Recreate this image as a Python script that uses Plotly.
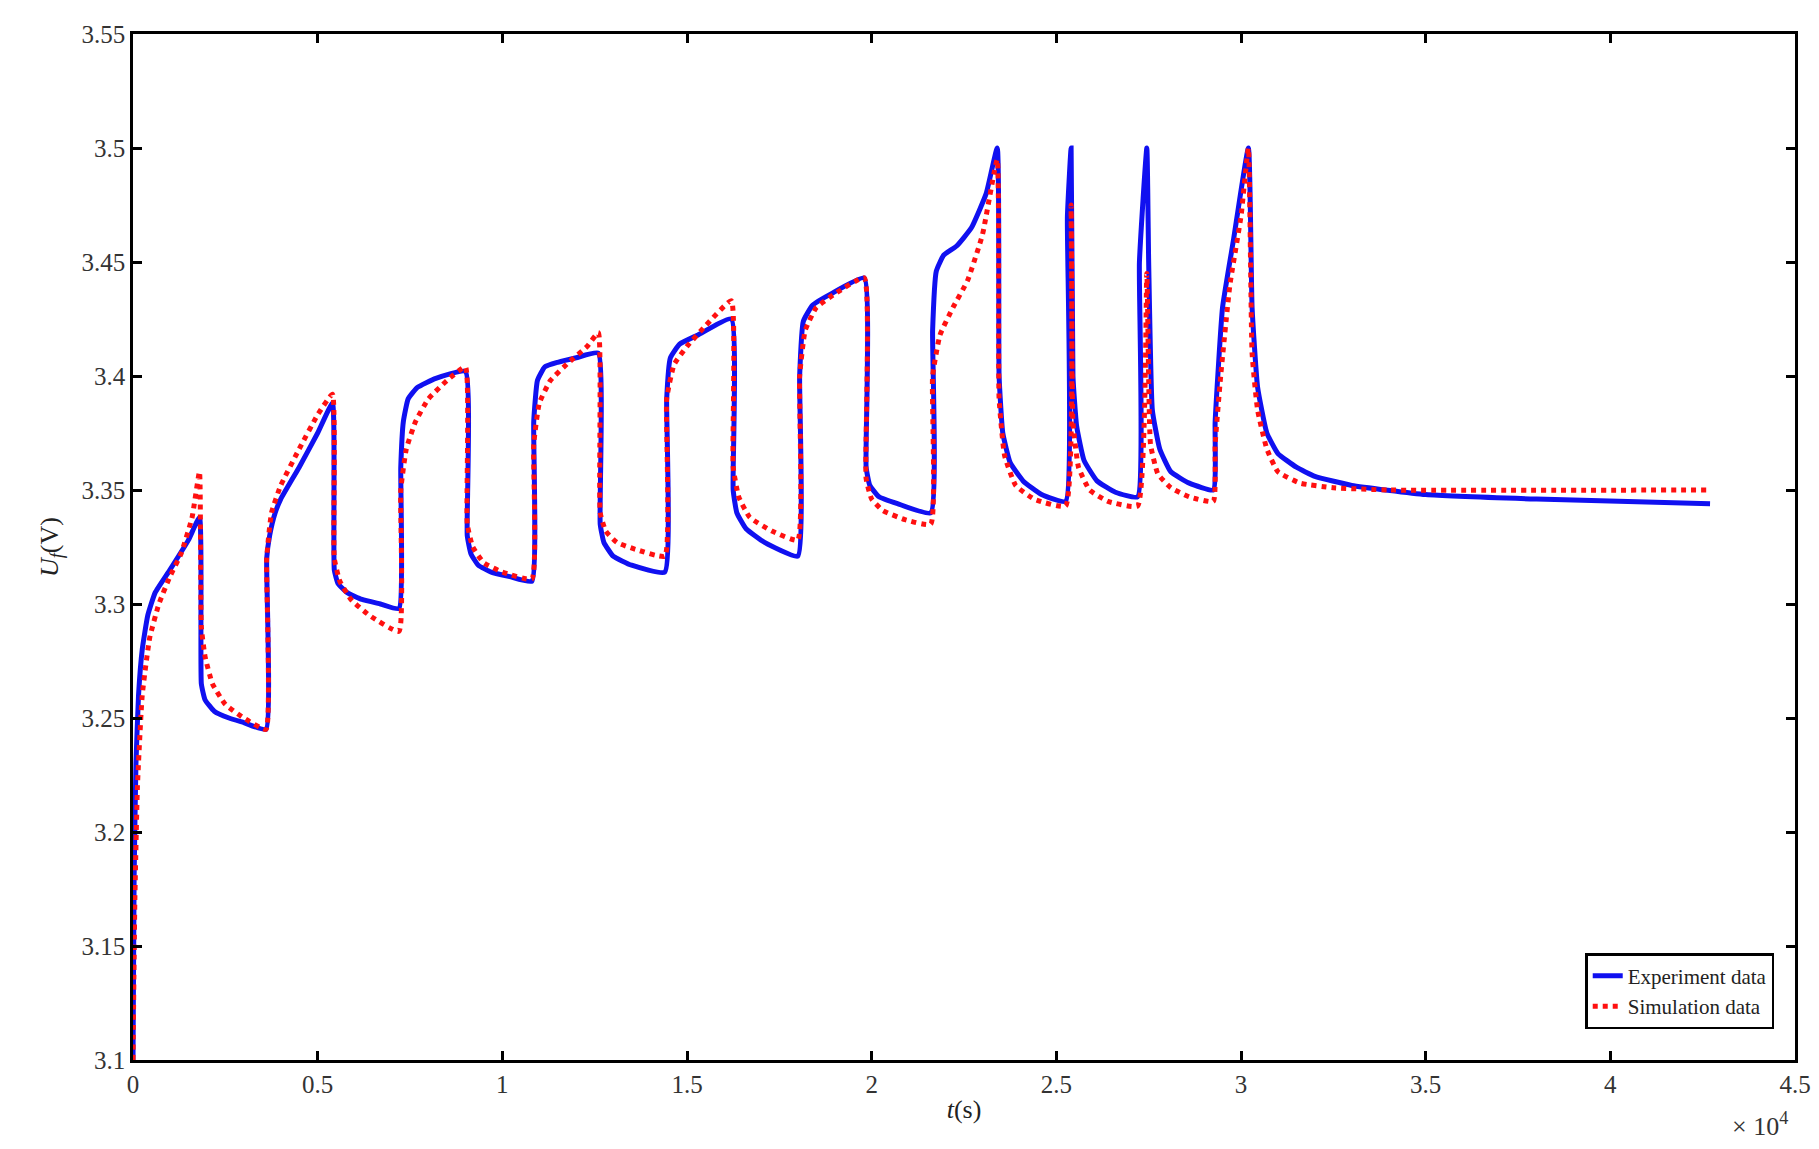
import plotly.graph_objects as go

exp_t = [0, 30, 80, 150, 250, 400, 600, 1000, 1500, 1800, 1850, 1950, 2200, 2600, 3000, 3600,
         3620, 3700, 3850, 4000, 4500, 5000, 5400, 5450, 5550, 5800, 6200, 6700, 7200,
         7250, 7320, 7450, 7700, 8200, 9000, 9050, 9150, 9350, 9700, 10200, 10800,
         10850, 10950, 11150, 11500, 12000, 12600, 12650, 12750, 13000, 13500, 14400,
         14450, 14550, 14800, 15300, 16200, 16250, 16350, 16600, 17100, 18000,
         18050, 18150, 18400, 18900, 19800, 19850, 19950, 20200, 20700, 21600,
         21650, 21750, 21950, 22300, 22700, 23100, 23400, 23450, 23550, 23750, 24100, 24600, 25250,
         25300, 25400, 25450, 25550, 25750, 26100, 26600, 27200,
         27250, 27450, 27500, 27600, 27800, 28100, 28600, 29250,
         29300, 29500, 29800, 30200, 30300, 30450, 30700, 31000, 31500, 32000, 33000, 35000, 38000, 42700]
exp_v = [3.10, 3.18, 3.23, 3.26, 3.28, 3.295, 3.305, 3.315, 3.328, 3.338, 3.265, 3.258, 3.253, 3.250, 3.248, 3.245,
         3.32, 3.33, 3.340, 3.346, 3.36, 3.375, 3.388, 3.315, 3.309, 3.305, 3.302, 3.300, 3.298,
         3.36, 3.38, 3.39, 3.395, 3.399, 3.402, 3.33, 3.322, 3.317, 3.314, 3.312, 3.310,
         3.38, 3.398, 3.404, 3.406, 3.408, 3.41, 3.335, 3.327, 3.321, 3.317, 3.314,
         3.39, 3.408, 3.414, 3.418, 3.425, 3.35, 3.34, 3.333, 3.327, 3.321,
         3.40, 3.424, 3.431, 3.436, 3.443, 3.36, 3.352, 3.347, 3.344, 3.340,
         3.42, 3.446, 3.453, 3.457, 3.465, 3.48, 3.50, 3.40, 3.375, 3.362, 3.354, 3.348, 3.345,
         3.47, 3.50, 3.40, 3.378, 3.363, 3.354, 3.349, 3.347,
         3.45, 3.50, 3.45, 3.385, 3.368, 3.358, 3.353, 3.350,
         3.38, 3.43, 3.46, 3.50, 3.43, 3.395, 3.375, 3.366, 3.360, 3.356, 3.352, 3.348, 3.346, 3.344]

sim_t = [0, 50, 120, 250, 450, 700, 1000, 1300, 1600, 1800, 1850, 1950, 2150, 2500, 3000, 3600,
         3620, 3750, 4000, 4500, 5000, 5400, 5450, 5600, 5900, 6400, 7200,
         7250, 7400, 7650, 8000, 8500, 9000, 9050, 9200, 9500, 10000, 10800,
         10850, 11000, 11300, 11800, 12300, 12600, 12650, 12800, 13100, 13600, 14400,
         14450, 14650, 15000, 15500, 16200, 16250, 16400, 16700, 17300, 18000,
         18050, 18200, 18500, 19000, 19800, 19850, 20000, 20300, 20900, 21600,
         21650, 21850, 22200, 22600, 23000, 23400, 23450, 23600, 23900, 24400, 25250,
         25400, 25450, 25600, 25900, 26400, 27200,
         27450, 27550, 27750, 28100, 28600, 29250,
         29300, 29450, 29700, 30000, 30200, 30300, 30450, 30700, 31000, 31600, 32500, 34000, 42700]
sim_v = [3.10, 3.17, 3.22, 3.26, 3.285, 3.30, 3.312, 3.322, 3.338, 3.358, 3.29, 3.277, 3.265, 3.256, 3.250, 3.245,
         3.32, 3.34, 3.352, 3.368, 3.383, 3.392, 3.32, 3.31, 3.302, 3.295, 3.288,
         3.35, 3.368, 3.38, 3.39, 3.398, 3.404, 3.335, 3.325, 3.318, 3.314, 3.311,
         3.37, 3.388, 3.398, 3.406, 3.413, 3.419, 3.34, 3.332, 3.327, 3.324, 3.321,
         3.39, 3.405, 3.413, 3.422, 3.433, 3.36, 3.347, 3.338, 3.332, 3.328,
         3.40, 3.42, 3.43, 3.436, 3.443, 3.355, 3.346, 3.341, 3.337, 3.335,
         3.40, 3.418, 3.43, 3.442, 3.462, 3.495, 3.39, 3.365, 3.352, 3.346, 3.343,
         3.475, 3.38, 3.36, 3.35, 3.345, 3.343,
         3.445, 3.37, 3.357, 3.351, 3.347, 3.345,
         3.37, 3.40, 3.44, 3.47, 3.50, 3.41, 3.385, 3.368, 3.358, 3.353, 3.351, 3.35, 3.35]

x_ticks = [0, 5000, 10000, 15000, 20000, 25000, 30000, 35000, 40000, 45000]
x_labels = ["0", "0.5", "1", "1.5", "2", "2.5", "3", "3.5", "4", "4.5"]
y_ticks = [3.1, 3.15, 3.2, 3.25, 3.3, 3.35, 3.4, 3.45, 3.5, 3.55]
y_labels = ["3.1", "3.15", "3.2", "3.25", "3.3", "3.35", "3.4", "3.45", "3.5", "3.55"]

fig = go.Figure()
fig.add_trace(go.Scatter(x=exp_t, y=exp_v, mode="lines", name="Experiment data",
                         line=dict(color="#1010f0", width=5, shape="spline", smoothing=0.4)))
fig.add_trace(go.Scatter(x=sim_t, y=sim_v, mode="lines", name="Simulation data",
                         line=dict(color="#ff1010", width=5, dash="dot", shape="spline", smoothing=0.4)))

font = dict(family="Liberation Serif", size=25, color="#333")
axis_common = dict(showgrid=False, zeroline=False, showline=True, linecolor="black",
                   linewidth=2.5, mirror="ticks", ticks="inside", ticklen=9,
                   tickwidth=2.5, tickcolor="black", tickfont=font)
fig.update_layout(
    width=1819, height=1149, paper_bgcolor="white", plot_bgcolor="white",
    margin=dict(l=125, r=32, t=26, b=97),
    xaxis=dict(range=[0, 45000], tickvals=x_ticks, ticktext=x_labels,
               title=dict(text="<i>t</i>(s)", font=dict(family="Liberation Serif", size=26, color="#222"), standoff=4),
               **axis_common),
    yaxis=dict(range=[3.1, 3.55], tickvals=y_ticks, ticktext=y_labels,
               title=dict(text="<i>U<sub>f</sub></i>(V)", font=dict(family="Liberation Serif", size=26, color="#222"), standoff=16),
               **axis_common),
    legend=dict(x=0.9875, y=0.03, xanchor="right", yanchor="bottom",
                bordercolor="black", borderwidth=2.5, bgcolor="white",
                font=dict(family="Liberation Serif", size=21, color="#222")),
    showlegend=True,
)
fig.add_annotation(text="× 10<sup>4</sup>", xref="paper", yref="paper", x=0.997, y=-0.045,
                   xanchor="right", yanchor="top", showarrow=False,
                   font=dict(family="Liberation Serif", size=26, color="#333"))
fig.write_html("out.html")
